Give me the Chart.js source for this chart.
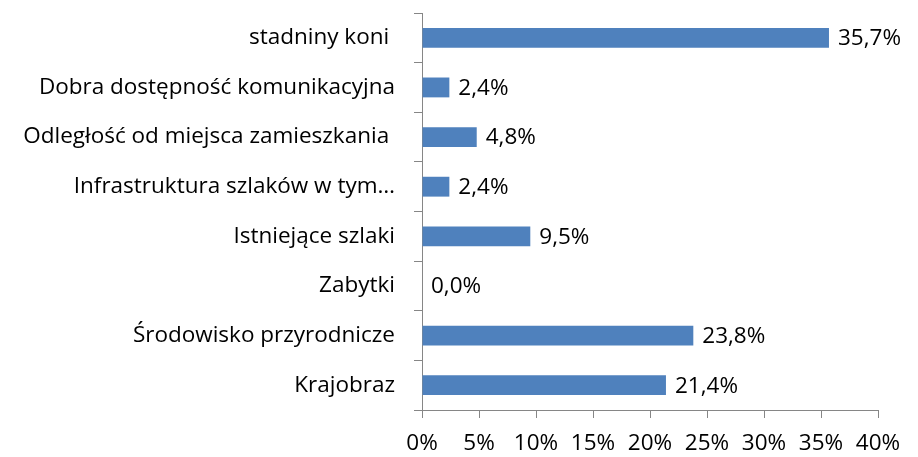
<!DOCTYPE html>
<html>
<head>
<meta charset="utf-8">
<script src="https://cdn.jsdelivr.net/npm/chart.js@4/dist/chart.umd.min.js"></script>
<style>
html,body{margin:0;padding:0;background:#fff;}
#wrap{width:918px;height:457px;position:relative;}
</style>
</head>
<body>
<div id="wrap"><canvas id="c" width="918" height="457"></canvas></div>
<script>
const categories = [
  "stadniny koni ",
  "Dobra dostępność komunikacyjna",
  "Odległość od miejsca zamieszkania ",
  "Infrastruktura szlaków w tym…",
  "Istniejące szlaki",
  "Zabytki",
  "Środowisko przyrodnicze",
  "Krajobraz"
];
const values = [35.7, 2.4, 4.8, 2.4, 9.5, 0.0, 23.8, 21.4];
const xTicks = [0, 5, 10, 15, 20, 25, 30, 35, 40];

const FONT = "'Open Sans', sans-serif";
const FS = 22.5;
const fmt = v => v.toFixed(1).replace('.', ',') + '%';

const labelPlugin = {
  id: 'barLabels',
  afterDatasetsDraw(chart) {
    const ctx = chart.ctx;
    const meta = chart.getDatasetMeta(0);
    ctx.save();
    ctx.font = FS + "px " + FONT;
    ctx.fillStyle = "#000";
    ctx.textAlign = "left";
    ctx.textBaseline = "middle";
    meta.data.forEach((bar, i) => {
      ctx.fillText(fmt(values[i]), bar.x + 9, bar.y + 1);
    });
    ctx.restore();
  }
};

new Chart(document.getElementById('c'), {
  type: 'bar',
  data: {
    labels: categories,
    datasets: [{
      data: values,
      backgroundColor: '#4F81BD',
      borderWidth: 0,
      barPercentage: 0.4,
      categoryPercentage: 1.0
    }]
  },
  options: {
    indexAxis: 'y',
    responsive: false,
    animation: false,
    layout: { padding: { top: 13, right: 40, left: 0, bottom: 0 } },
    plugins: { legend: { display: false }, tooltip: { enabled: false } },
    scales: {
      x: {
        min: 0, max: 40,
        afterBuildTicks: s => { s.ticks = xTicks.map(v => ({ value: v })); },
        afterFit: s => { s.height = 47; },
        border: { display: true, color: '#868686', width: 1 },
        grid: { drawOnChartArea: false, drawTicks: true, tickLength: 8, color: '#868686' },
        ticks: {
          color: '#000',
          font: { size: FS, family: FONT },
          padding: 12,
          maxRotation: 0,
          callback: v => v + '%'
        }
      },
      y: {
        afterFit: s => { s.width = 422; s.paddingTop = 0; s.paddingBottom = 0; },
        border: { display: true, color: '#868686', width: 1 },
        grid: { drawOnChartArea: false, drawTicks: true, tickLength: 8, color: '#868686', offset: true },
        ticks: {
          color: '#000',
          font: { size: FS, family: FONT },
          padding: 19
        }
      }
    }
  },
  plugins: [labelPlugin]
});
</script>
</body>
</html>
